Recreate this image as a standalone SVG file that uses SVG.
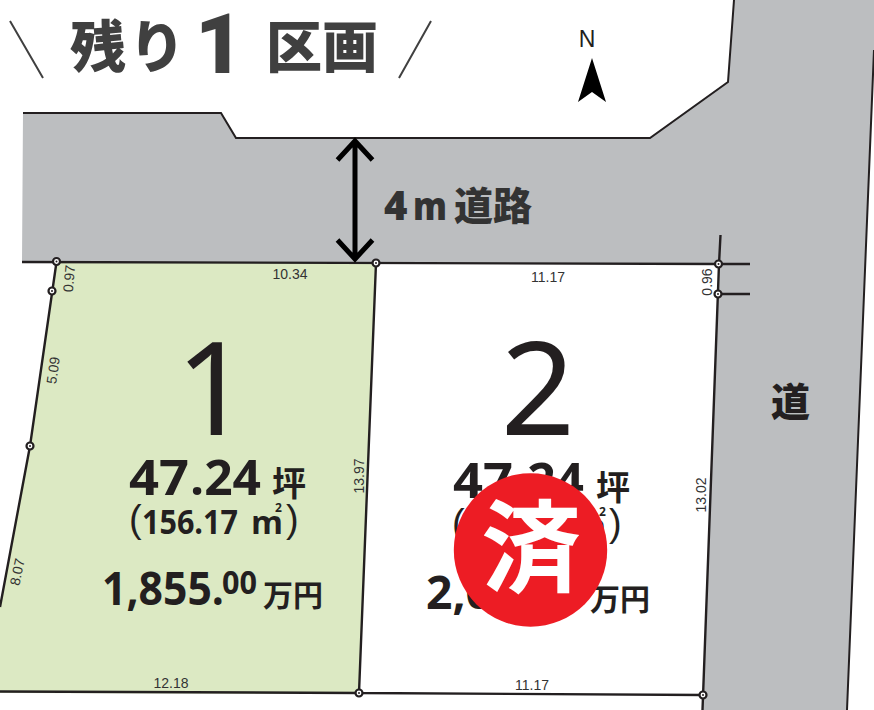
<svg xmlns="http://www.w3.org/2000/svg" xmlns:xlink="http://www.w3.org/1999/xlink" width="874" height="710" viewBox="0 0 874 710">
<style>
.o{fill:none;stroke:#231f20;stroke-width:2.4}
.d{font-family:"Liberation Sans",sans-serif;font-size:14px;fill:#333}
.h{font-family:"Noto Sans CJK JP",sans-serif;font-weight:700;fill:#231f20}
.n{font-family:"Open Sans",sans-serif;font-weight:700;fill:#231f20}
.g{font-family:"Noto Sans CJK JP",sans-serif;font-weight:900;fill:#404040}
.b{font-family:"Noto Sans",sans-serif;font-weight:400;fill:#231f20}
.pr{font-family:"Liberation Sans",sans-serif;fill:#231f20}
</style>
<defs>
<g id="pt"><circle r="3.5" fill="#fff" stroke="#231f20" stroke-width="2.2"/><circle r="1" fill="#231f20"/></g>
</defs>
<rect width="874" height="710" fill="#fff"/>
<g id="road">
<path d="M23 113H221L236 138H650L728 82L734 0H874V50L847 710H702.500L719 264L22 262Z" fill="#bcbec0"/>
<path d="M23 113H221L236 138H650L728 82L734 0M874 50L847 710" fill="none" stroke="#231f20" stroke-width="2"/>
</g>
<g id="lot1">
<path d="M56.500 262L376 263L359 694L0 693V607L30 446Z" fill="#dce9c3"/>
</g>
<g id="connectors">
<path class="o" d="M22 262L719 264M56.500 262L30 446L0 607M376 263L359 693M0 691.500L359 693L703 695M719 264L702.500 710M720.500 235L719 264M719 264H750M718 294H750"/>
<path d="M355 140V258M337.500 160L355 141L372.500 160M337.500 240L355 259L372.500 240" fill="none" stroke="#000" stroke-width="5"/>
</g>
<g id="points">
<use xlink:href="#pt" href="#pt" x="56.500" y="261.500"/>
<use xlink:href="#pt" href="#pt" x="52" y="291"/>
<use xlink:href="#pt" href="#pt" x="30" y="446"/>
<use xlink:href="#pt" href="#pt" x="376" y="263"/>
<use xlink:href="#pt" href="#pt" x="718.500" y="264"/>
<use xlink:href="#pt" href="#pt" x="718" y="294"/>
<use xlink:href="#pt" href="#pt" x="359" y="693"/>
<use xlink:href="#pt" href="#pt" x="703" y="695"/>
</g>
<g id="title">
<text class="g" x="70" y="67" font-size="56" letter-spacing="3">残り</text>
<text x="195" y="73" font-family="Roboto" font-weight="900" font-size="84" fill="#404040">1</text>
<text class="g" x="266" y="67" font-size="56">区画</text>
<path d="M10 21L43 78M431 21L399 78" stroke="#404040" stroke-width="2" fill="none"/>
</g>
<g id="north">
<text x="587" y="47" text-anchor="middle" font-family="Liberation Sans" font-size="23" fill="#231f20">N</text>
<path d="M592 58L606 102L592 92L578 102Z" fill="#000"/>
</g>
<g id="road-labels">
<text x="384" y="220" font-family="Open Sans" font-weight="800" font-size="40" fill="#333">4</text>
<text x="413" y="220" font-family="Open Sans" font-weight="800" font-size="38" fill="#333" textLength="34" lengthAdjust="spacingAndGlyphs">m</text>
<text x="454" y="220" font-family="Noto Sans CJK JP" font-weight="900" font-size="39" fill="#333">道路</text>
<text x="771" y="416" font-family="Noto Sans CJK JP" font-weight="900" font-size="39" fill="#231f20">道</text>
</g>
<g id="dims">
<text class="d" x="290" y="279" text-anchor="middle">10.34</text>
<text class="d" x="548" y="282" text-anchor="middle">11.17</text>
<text class="d" x="171" y="688" text-anchor="middle">12.18</text>
<text class="d" x="532" y="690" text-anchor="middle">11.17</text>
<text class="d" transform="translate(74,279) rotate(-85)" text-anchor="middle">0.97</text>
<text class="d" transform="translate(58,371) rotate(-82)" text-anchor="middle">5.09</text>
<text class="d" transform="translate(22,573) rotate(-78)" text-anchor="middle">8.07</text>
<text class="d" transform="translate(364,476) rotate(-90)" text-anchor="middle">13.97</text>
<text class="d" transform="translate(712,282) rotate(-90)" text-anchor="middle">0.96</text>
<text class="d" transform="translate(706,495) rotate(-90)" text-anchor="middle">13.02</text>
</g>
<g id="lot1-text">
<text class="b" x="213" y="435" font-size="130" text-anchor="middle">1</text>
<text class="n" x="129" y="495" font-size="48" textLength="60" lengthAdjust="spacingAndGlyphs">47</text>
<text class="n" x="190" y="495" font-size="48" textLength="71" lengthAdjust="spacingAndGlyphs">.24</text>
<text class="h" x="272" y="496" font-size="34">坪</text>
<text class="pr" x="129" y="532" font-size="38">(</text>
<text class="n" x="142" y="534" font-size="34" textLength="96" lengthAdjust="spacingAndGlyphs">156.17</text>
<text class="n" x="251" y="534" font-size="33" textLength="32" lengthAdjust="spacingAndGlyphs">m</text>
<text class="n" x="275" y="512" font-size="12">2</text>
<text class="pr" x="286" y="532" font-size="38">)</text>
<text class="n" x="102" y="605" font-size="47" textLength="122" lengthAdjust="spacingAndGlyphs">1,855.</text>
<text class="n" x="222" y="594" font-size="32" textLength="35" lengthAdjust="spacingAndGlyphs">00</text>
<text class="h" x="263" y="606" font-size="30">万円</text>
</g>
<g id="lot2-text">
<text class="b" x="538" y="435" font-size="130" text-anchor="middle">2</text>
<text class="n" x="453" y="498" font-size="48" textLength="60" lengthAdjust="spacingAndGlyphs">47</text>
<text class="n" x="513" y="498" font-size="48" textLength="71" lengthAdjust="spacingAndGlyphs">.24</text>
<text class="h" x="596" y="500" font-size="34">坪</text>
<text class="pr" x="452" y="536" font-size="38">(</text>
<text class="n" x="465" y="538" font-size="34" textLength="96" lengthAdjust="spacingAndGlyphs">156.17</text>
<text class="n" x="574" y="538" font-size="33" textLength="32" lengthAdjust="spacingAndGlyphs">m</text>
<text class="n" x="599" y="516" font-size="12">2</text>
<text class="pr" x="609" y="536" font-size="38">)</text>
<text class="n" x="426" y="609" font-size="47" textLength="66" lengthAdjust="spacingAndGlyphs">2,0</text>
<text class="h" x="590" y="610" font-size="30">万円</text>
</g>
<g id="sold">
<circle cx="530.500" cy="550" r="76.700" fill="#ed1c24"/>
<text x="531" y="584" text-anchor="middle" font-family="Noto Sans CJK JP" font-weight="700" font-size="100" fill="#fff">済</text>
</g>
</svg>
